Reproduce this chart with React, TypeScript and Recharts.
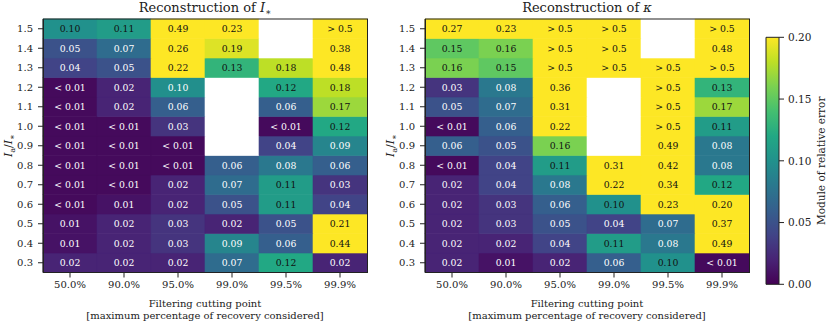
import { BarChart, Bar, XAxis, YAxis } from 'recharts';

const cutPoints = ['50.0%', '90.0%', '95.0%', '99.0%', '99.5%', '99.9%'];
const ratios = ['1.5', '1.4', '1.3', '1.2', '1.1', '1.0', '0.9', '0.8', '0.7', '0.6', '0.5', '0.4', '0.3'];

// "< 0.01" cells are kept as LO, "> 0.5" cells as HI, empty cells as null
const LO = 0.005;
const HI = 0.6;

// rows top (1.5) to bottom (0.3), columns follow cutPoints
const errIstar = [
  [0.10, 0.11, 0.49, 0.23, null, HI],
  [0.05, 0.07, 0.26, 0.19, null, 0.38],
  [0.04, 0.05, 0.22, 0.13, 0.18, 0.48],
  [LO, 0.02, 0.098, null, 0.12, 0.18],
  [LO, 0.02, 0.06, null, 0.06, 0.17],
  [LO, LO, 0.03, null, LO, 0.12],
  [LO, LO, LO, null, 0.04, 0.09],
  [LO, LO, LO, 0.06, 0.08, 0.06],
  [LO, LO, 0.02, 0.07, 0.11, 0.03],
  [LO, 0.01, 0.02, 0.05, 0.11, 0.04],
  [0.01, 0.02, 0.03, 0.02, 0.05, 0.21],
  [0.01, 0.02, 0.03, 0.09, 0.06, 0.44],
  [0.02, 0.02, 0.02, 0.07, 0.12, 0.02],
];

const errKappa = [
  [0.27, 0.23, HI, HI, null, HI],
  [0.15, 0.16, HI, HI, null, 0.48],
  [0.16, 0.15, HI, HI, HI, HI],
  [0.03, 0.08, 0.36, null, HI, 0.13],
  [0.05, 0.07, 0.31, null, HI, 0.17],
  [LO, 0.06, 0.22, null, HI, 0.11],
  [0.06, 0.05, 0.16, null, 0.49, 0.08],
  [LO, 0.04, 0.11, 0.31, 0.42, 0.08],
  [0.02, 0.04, 0.08, 0.22, 0.34, 0.12],
  [0.02, 0.03, 0.06, 0.10, 0.23, 0.20],
  [0.02, 0.03, 0.05, 0.04, 0.07, 0.37],
  [0.02, 0.02, 0.04, 0.11, 0.08, 0.49],
  [0.02, 0.01, 0.02, 0.06, 0.10, LO],
];

const cbarTicks = [0, 0.05, 0.1, 0.15, 0.2];
const VMAX = 0.2;

const viridis = [
  '#440154', '#482475', '#414487', '#355f8d', '#2a788e', '#21918c',
  '#22a884', '#44bf70', '#7ad151', '#bddf26', '#fde725',
];

const FONT = 'DejaVu Serif';
const PLOT_LEFT = 43;
const PLOT_TOP = 19;
const PLOT_W = 324;
const PLOT_H = 253.5;
const X_AXIS_H = 30;
const RIGHT_OFFSET = 382;

function hex(c: string) {
  return [1, 3, 5].map((i) => parseInt(c.slice(i, i + 2), 16));
}

function cmap(v: number) {
  const t = Math.min(Math.max(v / VMAX, 0), 1) * 10;
  const i = Math.min(Math.floor(t), 9);
  const f = t - i;
  const a = hex(viridis[i]);
  const b = hex(viridis[i + 1]);
  const m = a.map((x, k) => Math.round(x + (b[k] - x) * f));
  return `rgb(${m[0]},${m[1]},${m[2]})`;
}

function fmt(v: number) {
  if (v < 0.01) return '< 0.01';
  if (v > 0.5) return '> 0.5';
  return v.toFixed(2);
}

function Heatmap({ values, left }: { values: (number | null)[][]; left: number }) {
  const data = cutPoints.map((cut) => {
    const row: Record<string, string | number> = { cut };
    ratios.forEach((_, r) => {
      row[`r${r}`] = 1;
    });
    return row;
  });
  // stack from the bottom row up
  const order = ratios.map((_, r) => r).reverse();
  const rowTicks = ratios.map((_, r) => ratios.length - 0.5 - r);

  return (
    <div style={{ position: 'absolute', left, top: 0 }}>
      <BarChart
        width={PLOT_LEFT + PLOT_W + 2}
        height={322}
        data={data}
        margin={{ top: PLOT_TOP, right: 2, bottom: 322 - PLOT_TOP - PLOT_H - X_AXIS_H, left: 0 }}
        barCategoryGap={0}
        barGap={0}
      >
        <XAxis
          dataKey="cut"
          height={X_AXIS_H}
          interval={0}
          tickSize={5}
          tickMargin={3}
          axisLine={{ stroke: '#222' }}
          tickLine={{ stroke: '#222' }}
          tick={{ fontSize: 10, fill: '#222', fontFamily: FONT }}
        />
        <YAxis
          type="number"
          domain={[0, ratios.length]}
          ticks={rowTicks}
          interval={0}
          width={PLOT_LEFT}
          tickSize={5}
          tickMargin={5}
          tickFormatter={(v: number) => ratios[Math.round(ratios.length - 0.5 - v)]}
          axisLine={{ stroke: '#222' }}
          tickLine={{ stroke: '#222' }}
          tick={{ fontSize: 10, fill: '#222', fontFamily: FONT }}
        />
        {order.map((r) => (
          <Bar
            key={r}
            dataKey={`r${r}`}
            stackId="grid"
            isAnimationActive={false}
            shape={(p: any) => {
              const v = values[r][p.index];
              const fill = v == null ? '#ffffff' : cmap(v);
              return (
                <g>
                  <rect x={p.x} y={p.y} width={p.width} height={p.height} fill={fill} stroke={fill} strokeWidth={0.6} />
                  {v != null && (
                    <text
                      x={p.x + p.width / 2}
                      y={p.y + p.height / 2}
                      textAnchor="middle"
                      dominantBaseline="central"
                      fontSize={9.3}
                      fontFamily={FONT}
                      fill={v / VMAX >= 0.5 ? '#111' : '#fff'}
                    >
                      {fmt(v)}
                    </text>
                  )}
                </g>
              );
            }}
          />
        ))}
      </BarChart>
    </div>
  );
}

function Colorbar() {
  const data = [{ name: 'err', v: VMAX }];
  return (
    <div style={{ position: 'absolute', left: 740, top: 0 }}>
      <BarChart width={91} height={322} data={data} margin={{ top: 37.3, bottom: 37.7, left: 26, right: 0 }} barCategoryGap={0}>
        <defs>
          <linearGradient id="viridisGrad" x1="0" y1="1" x2="0" y2="0">
            {viridis.map((c, i) => (
              <stop key={c} offset={i / (viridis.length - 1)} stopColor={c} />
            ))}
          </linearGradient>
        </defs>
        <XAxis dataKey="name" hide />
        <YAxis
          orientation="right"
          type="number"
          domain={[0, VMAX]}
          ticks={cbarTicks}
          width={52}
          tickSize={5}
          tickMargin={4}
          tickFormatter={(v: number) => v.toFixed(2)}
          axisLine={false}
          tickLine={{ stroke: '#222' }}
          tick={{ fontSize: 10.5, fill: '#222', fontFamily: FONT }}
        />
        <Bar dataKey="v" fill="url(#viridisGrad)" stroke="#222" strokeWidth={1} isAnimationActive={false} />
      </BarChart>
    </div>
  );
}

function PanelText({ left, symbol }: { left: number; symbol: 'I' | 'k' }) {
  const cx = left + PLOT_LEFT + PLOT_W / 2;
  const cy = PLOT_TOP + PLOT_H / 2;
  return (
    <g fontFamily={FONT} fill="#222">
      <rect x={left + PLOT_LEFT + 0.5} y={PLOT_TOP} width={PLOT_W} height={PLOT_H} fill="none" stroke="#222" strokeWidth={1} />
      <text x={cx} y={11.5} textAnchor="middle" fontSize={13}>
        Reconstruction of{' '}
        {symbol === 'I' ? (
          <>
            <tspan fontStyle="italic">I</tspan>
            <tspan dy={3} fontSize={9}>∗</tspan>
          </>
        ) : (
          <tspan fontStyle="italic">κ</tspan>
        )}
      </text>
      <text transform={`translate(${left + 12},${cy}) rotate(-90)`} textAnchor="middle" fontSize={11}>
        <tspan fontStyle="italic">I</tspan>
        <tspan dy={2.5} fontSize={8}>a</tspan>
        <tspan dy={-2.5}>/</tspan>
        <tspan fontStyle="italic">I</tspan>
        <tspan dy={2.5} fontSize={8}>∗</tspan>
      </text>
      <text x={cx} y={306.5} textAnchor="middle" fontSize={10}>
        Filtering cutting point
      </text>
      <text x={cx} y={318.5} textAnchor="middle" fontSize={10}>
        [maximum percentage of recovery considered]
      </text>
    </g>
  );
}

export default function App() {
  return (
    <div style={{ position: 'absolute', left: 0, top: 0, width: 831, height: 322, background: '#fff' }}>
      <Heatmap values={errIstar} left={0} />
      <Heatmap values={errKappa} left={RIGHT_OFFSET} />
      <Colorbar />
      <svg width={831} height={322} style={{ position: 'absolute', left: 0, top: 0, pointerEvents: 'none' }}>
        <PanelText left={0} symbol="I" />
        <PanelText left={RIGHT_OFFSET} symbol="k" />
        <text
          transform="translate(825,160.8) rotate(-90)"
          textAnchor="middle"
          fontSize={10.5}
          fontFamily={FONT}
          fill="#222"
        >
          Module of relative error
        </text>
      </svg>
    </div>
  );
}
